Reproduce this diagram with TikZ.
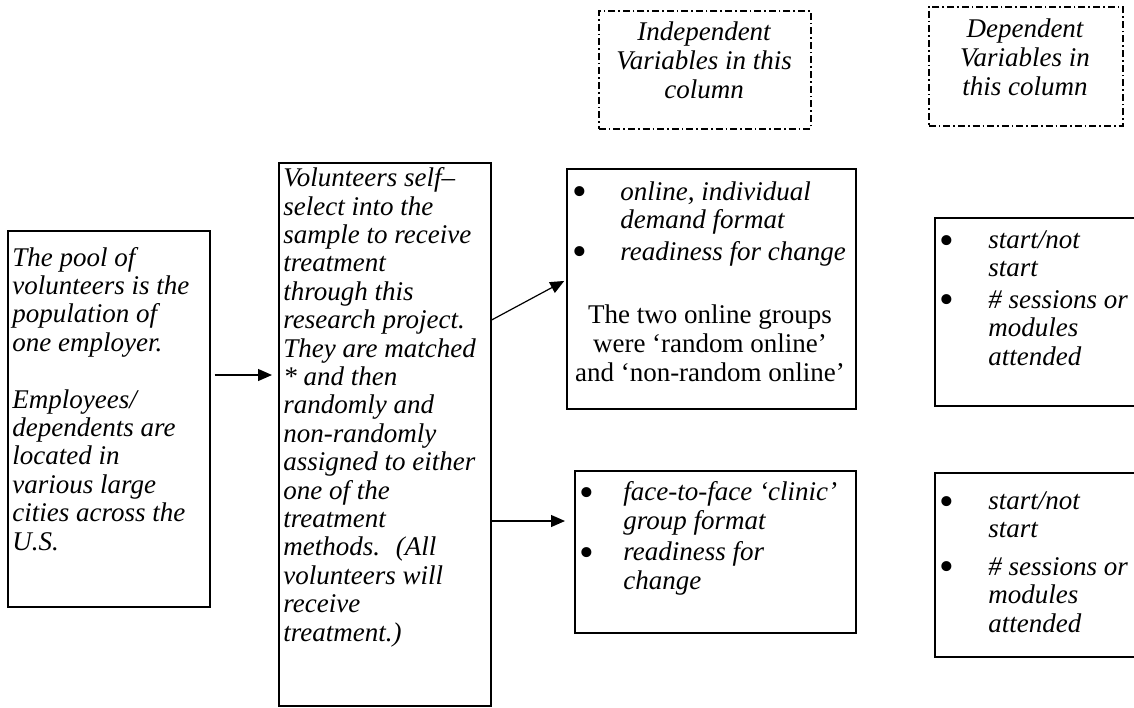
\documentclass[tikz,border=0pt]{standalone}
\usepackage{fontspec}
\setmainfont{Liberation Serif}
\usetikzlibrary{arrows.meta}
\newcommand{\bulletmark}[1][23pt]{\makebox[#1][l]{\upshape\raisebox{-2.8pt}{\fontsize{21}{21}\selectfont\textbullet}}}
\newcommand{\bulletpad}[1][23pt]{\hspace*{#1}}
\begin{document}
\begin{tikzpicture}[x=0.5pt,y=-0.5pt]
\tikzstyle{every node}+=[inner sep=0pt]
\tikzstyle{frame}=[draw, line width=0.8pt, anchor=north west]
\tikzstyle{note}=[draw, line width=0.8pt, anchor=north west, dash pattern=on 3.5pt off 1.5pt on 0.8pt off 1.5pt]
\tikzstyle{words}=[anchor=base west, align=left, font=\fontsize{13.5}{14.2}\selectfont\itshape]
\tikzstyle{heading}=[anchor=base, align=center, font=\fontsize{13.5}{14.4}\selectfont\itshape]
\tikzstyle{link}=[line width=0.6pt, -{Triangle[length=7pt,width=6pt]}]
\useasboundingbox (0,0) rectangle (1134,707);
\clip (0,0) rectangle (1134,707);
\node [frame, minimum width=101pt, minimum height=188pt] (pool) at (7,230) {};
\node [frame, minimum width=106pt, minimum height=271.5pt] (vol) at (278,162) {};
\node [note, minimum width=106pt, minimum height=59pt] (indep) at (598,10) {};
\node [note, minimum width=97pt, minimum height=59.5pt] (dep) at (928,6) {};
\node [frame, minimum width=144.5pt, minimum height=120pt] (online) at (566,168) {};
\node [frame, minimum width=140.5pt, minimum height=81pt] (clinic) at (574,470) {};
\node [frame, minimum width=110pt, minimum height=94pt] (dvonline) at (934,217) {};
\node [frame, minimum width=110pt, minimum height=92pt] (dvclinic) at (934,472) {};
\node [words] (pooltext) at (12,550) {The pool of\\ volunteers is the\\ population of\\ one employer.\\[14.2pt] Employees/\\ dependents are\\ located in\\ various large\\ cities across the\\ U.S.};
\node [words] (voltext) at (283,641) {Volunteers self–\\ select into the\\ sample to receive\\ treatment\\ through this\\ research project.\\ They are matched\\ {*} and then\\ randomly and\\ non-randomly\\ assigned to either\\ one of the\\ treatment\\ methods.~ (All\\ volunteers will\\ receive\\ treatment.)};
\node [heading] (indeptext) at (704,98) {Independent\\ Variables in this\\ column};
\node [heading] (deptext) at (1025,95) {Dependent\\ Variables in\\ this column};
\node [words] (onlinetext) at (572,260) {\bulletmark[24pt]online, individual\\ \bulletpad[24pt]demand format\\[1.5pt] \bulletmark[24pt]readiness for change};
\node [heading, font=\fontsize{13.5}{14.4}\selectfont] (groupstext) at (710,381) {The two online groups\\ were ‘random online’\\ and ‘non-random online’};
\node [words] (clinictext) at (579,589) {\bulletmark[22pt]face-to-face ‘clinic’\\ \bulletpad[22pt]group format\\[1.5pt] \bulletmark[22pt]readiness for\\ \bulletpad[22pt]change};
\node [words] (dvonlinetext) at (939,365) {\bulletmark[24.5pt]start/not\\ \bulletpad[24.5pt]start\\[1.5pt] \bulletmark[24.5pt]\# sessions or\\ \bulletpad[24.5pt]modules\\ \bulletpad[24.5pt]attended};
\node [words] (dvclinictext) at (939,632) {\bulletmark[24.5pt]start/not\\ \bulletpad[24.5pt]start\\[4.5pt] \bulletmark[24.5pt]\# sessions or\\ \bulletpad[24.5pt]modules\\ \bulletpad[24.5pt]attended};
\draw [link, shorten <=2pt, shorten >=3pt] (pool.east |- 0,375) -- (vol.west |- 0,375);
\draw [link, shorten >=1pt] (vol.east |- 0,320) -- (online.west |- 0,280);
\draw [link, shorten >=4.5pt] (vol.east |- 0,521) -- (clinic.west |- 0,521);
\end{tikzpicture}
\end{document}
